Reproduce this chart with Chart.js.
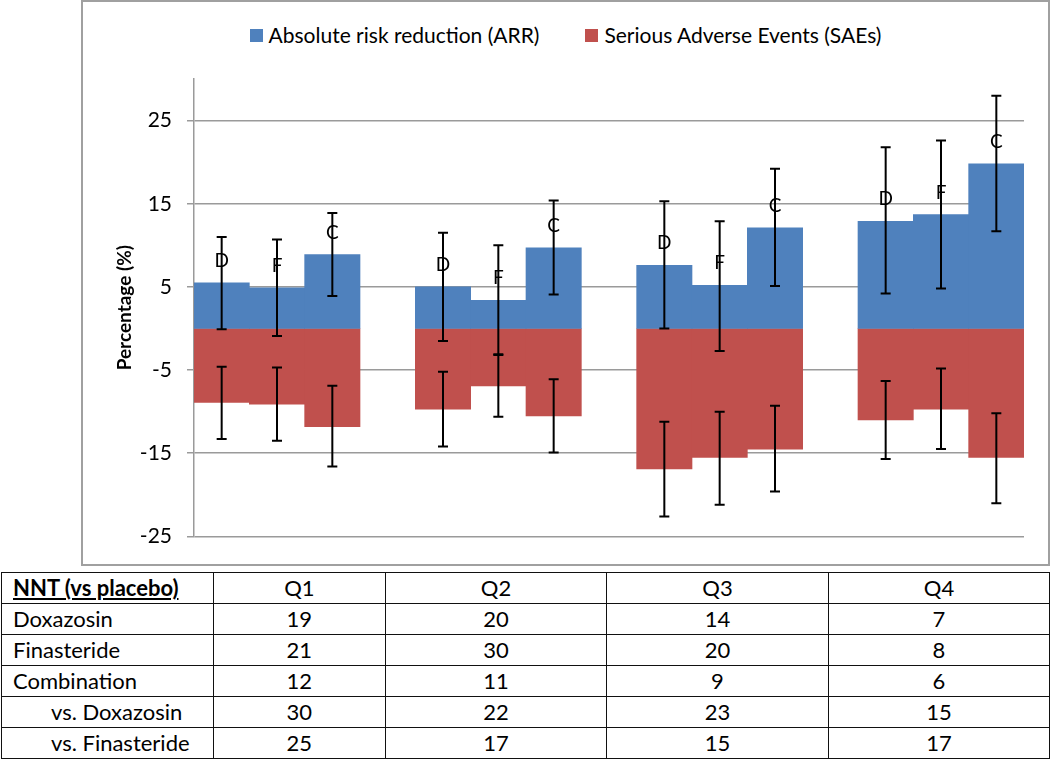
<!DOCTYPE html>
<html>
<head>
<meta charset="utf-8">
<script src="https://cdn.jsdelivr.net/npm/chart.js@4.4.0/dist/chart.umd.min.js"></script>
<style>
  body { margin: 0; background: #fff; font-family: Lato, sans-serif; }
  #chartBox { position: absolute; left: 81px; top: 0; width: 969px; height: 566px;
              box-sizing: border-box; border: 2px solid #a0a0a0; background: #fff; }
  #chartWrap { position: absolute; left: 0; top: 0; width: 965px; height: 562px; }
  #legend { position: absolute; left: 0; top: 21px; width: 965px; display: flex;
            justify-content: center; gap: 46px; font-size: 21px; line-height: 24px; color: #000; }
  #legend .item { display: flex; align-items: center; }
  #legend .swatch { width: 13px; height: 13px; margin-right: 6px; }
  #nntTable { position: absolute; left: 1px; top: 572px; border-collapse: collapse;
              font-size: 22px; color: #000; }
  #nntTable td { border: 1.5px solid #111; height: 30px; padding: 0; line-height: 30px; text-align: center; }
  #nntTable td.rowLabel { text-align: left; padding-left: 11px; }
  #nntTable td.indent { padding-left: 49px; }
  #nntTable td.head { font-weight: bold; text-decoration: underline; }
</style>
</head>
<body>
<div id="chartBox">
  <div id="legend"></div>
  <div id="chartWrap"><canvas id="nntChart"></canvas></div>
</div>
<table id="nntTable"></table>

<script>
// bars: one category per bar, empty category between the quarters
const categories = ["D", "F", "C", "", "D", "F", "C", "", "D", "F", "C", "", "D", "F", "C"];

const arrValues = [5.5, 4.9, 8.9, null, 5.0, 3.4, 9.7, null, 7.6, 5.2, 12.1, null, 12.9, 13.7, 19.8];
const arrLow    = [-0.1, -0.9, 3.9, null, -1.5, -3.1, 4.1, null, 0.0, -2.7, 5.1, null, 4.2, 4.8, 11.7];
const arrHigh   = [11.0, 10.7, 13.9, null, 11.5, 10.0, 15.4, null, 15.3, 12.9, 19.2, null, 21.8, 22.6, 28.0];

const saeValues = [-8.9, -9.1, -11.8, null, -9.7, -6.9, -10.5, null, -16.9, -15.5, -14.5, null, -11.0, -9.7, -15.5];
const saeLow    = [-13.3, -13.5, -16.6, null, -14.2, -10.6, -14.9, null, -22.6, -21.2, -19.6, null, -15.7, -14.5, -21.0];
const saeHigh   = [-4.6, -4.7, -6.9, null, -5.2, -3.2, -6.1, null, -11.2, -10.0, -9.3, null, -6.3, -4.8, -10.2];

const yTicks = [-25, -15, -5, 5, 15, 25];

// NNT table
const quarters = ["Q1", "Q2", "Q3", "Q4"];
const nntDoxazosin = [19, 20, 14, 7];
const nntFinasteride = [21, 30, 20, 8];
const nntCombination = [12, 11, 9, 6];
const nntVsDoxazosin = [30, 22, 23, 15];
const nntVsFinasteride = [25, 17, 15, 17];

const colWidths = [211, 172, 221, 222, 221];

function buildTable() {
    const table = document.getElementById("nntTable");
    const rows = [
        ["NNT (vs placebo)", quarters, "head"],
        ["Doxazosin", nntDoxazosin, ""],
        ["Finasteride", nntFinasteride, ""],
        ["Combination", nntCombination, ""],
        ["vs. Doxazosin", nntVsDoxazosin, "indent"],
        ["vs. Finasteride", nntVsFinasteride, "indent"]
    ];
    rows.forEach(function(r) {
        const tr = document.createElement("tr");
        const th = document.createElement("td");
        th.textContent = r[0];
        th.className = "rowLabel " + r[2];
        th.style.width = (colWidths[0] - 11) + "px";
        if (r[2] === "indent") th.style.width = (colWidths[0] - 49) + "px";
        tr.appendChild(th);
        r[1].forEach(function(v, i) {
            const td = document.createElement("td");
            td.textContent = v;
            td.style.width = colWidths[i + 1] + "px";
            tr.appendChild(td);
        });
        table.appendChild(tr);
    });
}

// letters above the blue bars
const letterPlugin = {
    id: "letters",
    afterDatasetsDraw(chart) {
        const ctx = chart.ctx;
        const meta = chart.getDatasetMeta(0);
        ctx.save();
        ctx.font = "19px Lato";
        ctx.fillStyle = "#000";
        ctx.textAlign = "center";
        ctx.textBaseline = "middle";
        meta.data.forEach(function(bar, i) {
            if (!categories[i]) return;
            ctx.fillText(categories[i], bar.x, bar.y - 22);
        });
        ctx.restore();
    }
};

// error bars from errLow / errHigh on each dataset
const errorBarPlugin = {
    id: "errorBars",
    afterDatasetsDraw(chart) {
        const ctx = chart.ctx;
        const y = chart.scales.y;
        ctx.save();
        ctx.strokeStyle = "#000";
        ctx.lineWidth = 2;
        chart.data.datasets.forEach(function(ds, d) {
            const meta = chart.getDatasetMeta(d);
            meta.data.forEach(function(bar, i) {
                if (ds.errLow[i] == null) return;
                const x = bar.x;
                const yLo = y.getPixelForValue(ds.errLow[i]);
                const yHi = y.getPixelForValue(ds.errHigh[i]);
                ctx.beginPath();
                ctx.moveTo(x, yLo); ctx.lineTo(x, yHi);
                ctx.moveTo(x - 5, yLo); ctx.lineTo(x + 5, yLo);
                ctx.moveTo(x - 5, yHi); ctx.lineTo(x + 5, yHi);
                ctx.stroke();
            });
        });
        ctx.restore();
    }
};

function drawChart() {
    const ctx = document.getElementById("nntChart").getContext("2d");
    const chart = new Chart(ctx, {
        type: "bar",
        data: {
            labels: categories,
            datasets: [{
                label: "Absolute risk reduction (ARR)",
                data: arrValues,
                errLow: arrLow,
                errHigh: arrHigh,
                backgroundColor: "#4f81bd"
            }, {
                label: "Serious Adverse Events (SAEs)",
                data: saeValues,
                errLow: saeLow,
                errHigh: saeHigh,
                backgroundColor: "#c0504d"
            }]
        },
        options: {
            responsive: true,
            maintainAspectRatio: false,
            animation: false,
            layout: { padding: { left: 0, right: 24, top: 77, bottom: 25 } },
            datasets: { bar: { barPercentage: 1, categoryPercentage: 1, borderWidth: 0 } },
            plugins: {
                legend: { display: false },
                tooltip: { enabled: false }
            },
            scales: {
                x: { stacked: true, display: false },
                y: {
                    stacked: true,
                    min: -25,
                    max: 30,
                    afterBuildTicks: function(scale) {
                        scale.ticks = yTicks.map(function(v) { return { value: v }; });
                    },
                    afterFit: function(scale) { scale.width = 111; },
                    border: { color: "#9a9a9a", width: 1.5 },
                    grid: { color: "#9a9a9a", lineWidth: 1.5, tickLength: 7, tickColor: "#9a9a9a" },
                    ticks: { color: "#000", padding: 15, font: { family: "Lato", size: 21 } },
                    title: {
                        display: true,
                        text: "Percentage (%)",
                        color: "#000",
                        padding: { top: 30, bottom: 0 },
                        font: { family: "Lato", size: 19, weight: "bold" }
                    }
                }
            }
        },
        plugins: [letterPlugin, errorBarPlugin]
    });

    // html legend from the datasets
    const legend = document.getElementById("legend");
    chart.data.datasets.forEach(function(ds) {
        const item = document.createElement("div");
        item.className = "item";
        const sw = document.createElement("span");
        sw.className = "swatch";
        sw.style.background = ds.backgroundColor;
        const txt = document.createElement("span");
        txt.textContent = ds.label;
        item.appendChild(sw);
        item.appendChild(txt);
        legend.appendChild(item);
    });
}

document.addEventListener("DOMContentLoaded", function() {
    buildTable();
    Promise.all([
        document.fonts.load("21px Lato"),
        document.fonts.load("bold 19px Lato")
    ]).then(drawChart, drawChart);
});
</script>
</body>
</html>
